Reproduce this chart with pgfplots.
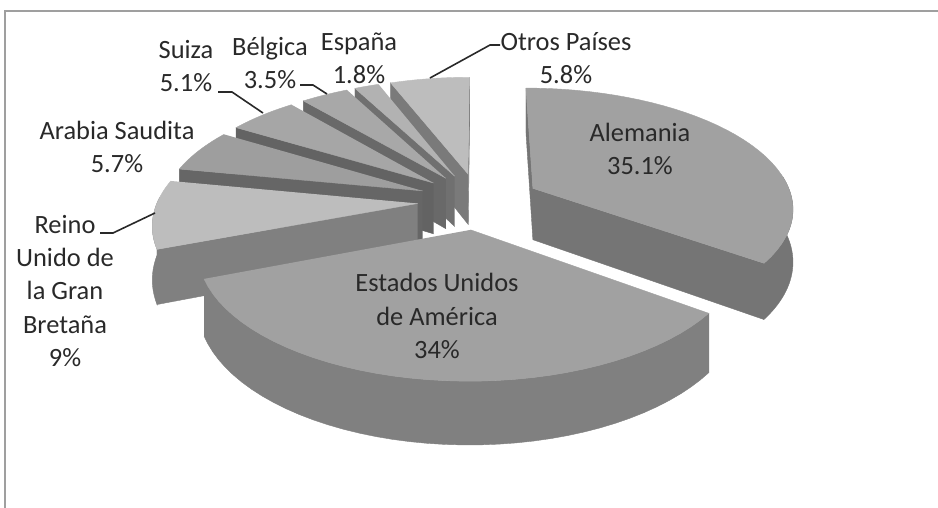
\documentclass[border=0pt]{standalone}
\usepackage{fontspec}
\setmainfont{Carlito}
\usepackage{pgfplots}
\pgfplotsset{compat=1.18}

% projection parameters (pixel units of the 938x508 reference)
\def\pieCX{479}\def\pieCY{201}\def\pieA{260}\def\pieB{119}\def\pieD{52}\def\pieK{0.15}\def\pieE{0.236}

% shares in percent, clockwise from 12 o'clock
\pgfmathsetmacro\tA{90}
\pgfmathsetmacro\tB{\tA-3.6*35.1}% Alemania
\pgfmathsetmacro\tC{\tB-3.6*34}% Estados Unidos
\pgfmathsetmacro\tD{\tC-3.6*9}% Reino Unido
\pgfmathsetmacro\tE{\tD-3.6*5.7}% Arabia Saudita
\pgfmathsetmacro\tF{\tE-3.6*5.1}% Suiza
\pgfmathsetmacro\tG{\tF-3.6*3.5}% Belgica
\pgfmathsetmacro\tH{\tG-3.6*1.8}% Espana
\pgfmathsetmacro\tI{\tH-3.6*5.8}% Otros
\pgfmathsetmacro\pAle{(\tA+\tB)/2}
\pgfmathsetmacro\pUs{(\tB+\tC)/2}
\pgfmathsetmacro\pUk{(\tC+\tD)/2}
\pgfmathsetmacro\pSa{(\tD+\tE)/2}
\pgfmathsetmacro\pCh{(\tE+\tF)/2}
\pgfmathsetmacro\pBe{(\tF+\tG)/2}
\pgfmathsetmacro\pEs{(\tG+\tH)/2}
\pgfmathsetmacro\pOt{(\tH+\tI)/2}

\definecolor{aleTop}{gray}{0.63}\definecolor{aleSide}{gray}{0.46}
\definecolor{usaTop}{gray}{0.63}\definecolor{usaSide}{gray}{0.50}
\definecolor{ukTop}{gray}{0.74}\definecolor{ukSide}{gray}{0.50}
\definecolor{saTop}{gray}{0.62}\definecolor{saSide}{gray}{0.40}
\definecolor{chTop}{gray}{0.65}\definecolor{chSide}{gray}{0.39}
\definecolor{beTop}{gray}{0.66}\definecolor{beSide}{gray}{0.41}
\definecolor{esTop}{gray}{0.70}\definecolor{esSide}{gray}{0.44}
\definecolor{otTop}{gray}{0.74}\definecolor{otSide}{gray}{0.48}
\definecolor{txt}{gray}{0.16}

\tikzset{lbl/.style={font=\fontsize{13.2}{16.6}\selectfont, text=txt, align=center, inner sep=0pt}}

\newcommand\topface[4]{%
 \addplot[fill=#4, draw=#4, line width=0.2pt, domain=0:2, samples=81]
  ({SX(#1,lin(x,#2,#3,#3,#3),lin(x,1,1,0,0))},
   {SY(#1,lin(x,#2,#3,#3,#3),lin(x,1,1,0,0),1)});}
\newcommand\radface[3]{%
 \addplot[fill=#3, draw=#3, line width=0.2pt, domain=0:2, samples=41]
  ({SX(#1,#2,lin(x,0,1,1,0))},
   {SY(#1,#2,lin(x,0,1,1,0),lin(x,1,1,0,0))});}
\newcommand\wallface[4]{%
 \addplot[fill=#4, draw=#4, line width=0.2pt, domain=0:2, samples=81]
  ({SX(#1,lin(x,#2,#3,#3,#2),1)},
   {SY(#1,lin(x,#2,#3,#3,#2),1,lin(x,1,1,0,0))});}

\begin{document}
\begin{tikzpicture}
\begin{axis}[
  scale only axis, width=469pt, height=254pt,
  xmin=0, xmax=938, ymin=0, ymax=508, y dir=reverse,
  hide axis, clip=false,
  declare function={
    hh(\qu)=ifthenelse(\qu<1,min((\qu)/0.95,1),min(((\qu)-1)/0.95,1));
    lin(\qu,\qa,\qb,\qc,\qd)=ifthenelse(\qu<1,(\qa)+((\qb)-(\qa))*hh(\qu),(\qc)+((\qd)-(\qc))*hh(\qu));
    XX(\qp,\qt,\qr)=\pieE*cos(\qp)+(\qr)*cos(\qt);
    YY(\qp,\qt,\qr)=\pieE*sin(\qp)+(\qr)*sin(\qt);
    SX(\qp,\qt,\qr)=\pieCX+\pieA*XX(\qp,\qt,\qr)/(1+\pieK*YY(\qp,\qt,\qr));
    SY(\qp,\qt,\qr,\qz)=\pieCY+(-\pieB*YY(\qp,\qt,\qr)+\pieD*(1-(\qz)))/(1+\pieK*YY(\qp,\qt,\qr));
  },
]
% frame
\addplot[draw=gray!75, line width=1pt, no marks] coordinates {(5,508) (5,11) (938,11)};

% Otros Paises
\radface{\pOt}{\tI}{otSide}
\radface{\pOt}{\tH}{otSide}
\topface{\pOt}{\tI}{\tH}{otTop}
% Espana
\radface{\pEs}{\tG}{esSide}
\topface{\pEs}{\tH}{\tG}{esTop}
% Belgica
\radface{\pBe}{\tF}{beSide}
\topface{\pBe}{\tG}{\tF}{beTop}
% Suiza
\radface{\pCh}{\tE}{chSide}
\topface{\pCh}{\tF}{\tE}{chTop}
% Arabia Saudita
\radface{\pSa}{\tD}{saSide}
\topface{\pSa}{\tE}{\tD}{saTop}
% Reino Unido
\radface{\pUk}{\tC}{ukSide}
\wallface{\pUk}{-183}{\tC}{ukSide}
\topface{\pUk}{\tD}{\tC}{ukTop}
% Alemania
\radface{\pAle}{\tA}{aleSide}
\radface{\pAle}{\tB}{aleSide}
\wallface{\pAle}{\tB}{6}{aleSide}
\topface{\pAle}{\tB}{\tA}{aleTop}
% Estados Unidos
\wallface{\pUs}{\tC}{\tB}{usaSide}
\topface{\pUs}{\tC}{\tB}{usaTop}

% leader lines
\addplot[draw=txt, line width=0.8pt, no marks] coordinates {(100,233) (113,233) (155,213)};
\addplot[draw=txt, line width=0.8pt, no marks] coordinates {(218,92) (232,92) (263,113)};
\addplot[draw=txt, line width=0.8pt, no marks] coordinates {(300,85) (313,85) (327,94)};
\addplot[draw=txt, line width=0.8pt, no marks] coordinates {(500,45) (490,45) (430,78)};

% labels
\node[lbl] at (axis cs:640,149) {Alemania\\35.1\%};
\node[lbl] at (axis cs:437,316) {Estados Unidos\\de América\\34\%};
\node[lbl] at (axis cs:65,291) {Reino\\Unido de\\la Gran\\Bretaña\\9\%};
\node[lbl] at (axis cs:117,147) {Arabia Saudita\\5.7\%};
\node[lbl] at (axis cs:186,66) {Suiza\\5.1\%};
\node[lbl] at (axis cs:270,63) {Bélgica\\3.5\%};
\node[lbl] at (axis cs:359,58) {España\\1.8\%};
\node[lbl] at (axis cs:566,58) {Otros Países\\5.8\%};
\end{axis}
\pgfresetboundingbox
\path[use as bounding box] (current axis.south west) rectangle (current axis.north east);
\end{tikzpicture}
\end{document}
